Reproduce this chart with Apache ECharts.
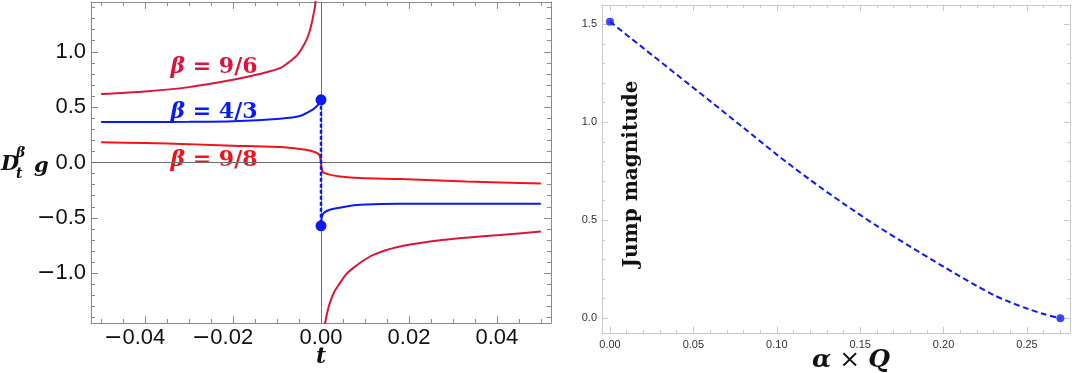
<!DOCTYPE html>
<html><head><meta charset="utf-8">
<script src="https://cdn.jsdelivr.net/npm/echarts@6.0.0/dist/echarts.min.js"></script>
<style>html,body{margin:0;padding:0;background:#fff}#c{width:1072px;height:373px}</style>
</head><body><div id="c"></div>
<script>
// ---------- Left panel data (t, D_t^beta g) ----------
const b96LeftT  = [-0.05, -0.04, -0.03, -0.02, -0.015, -0.012, -0.0093, -0.0075, -0.0065, -0.0055, -0.0045, -0.0033, -0.0027, -0.0021, -0.0017, -0.00136, -0.0009];
const b96LeftV  = [0.618, 0.641, 0.681, 0.747, 0.79, 0.82, 0.853, 0.90, 0.93, 0.965, 1.02, 1.108, 1.17, 1.26, 1.34, 1.41, 1.65];
const b96RightT = [0.0007, 0.0009, 0.0014, 0.002, 0.003, 0.0043, 0.0057, 0.0073, 0.0095, 0.0119, 0.0172, 0.0256, 0.033, 0.0407, 0.05];
const b96RightV = [-1.65, -1.466, -1.36, -1.27, -1.17, -1.09, -1.01, -0.954, -0.89, -0.834, -0.765, -0.71, -0.68, -0.655, -0.623];

const b43LeftT  = [-0.05, -0.04, -0.03, -0.02, -0.0093, -0.0048, -0.0018, -0.0008, -0.0003, 0];
const b43LeftV  = [0.365, 0.366, 0.368, 0.373, 0.396, 0.42, 0.48, 0.515, 0.54, 0.566];
const b43RightT = [0, 0.0002, 0.0007, 0.002, 0.0058, 0.0089, 0.018, 0.03, 0.05];
const b43RightV = [-0.572, -0.49, -0.455, -0.427, -0.397, -0.382, -0.372, -0.372, -0.373];

const b98T = [-0.05, -0.04, -0.03, -0.02, -0.0093, -0.0048, -0.0018, -0.0004, -0.0001, 0, 0.0001, 0.0005, 0.0015, 0.0043, 0.0089, 0.018, 0.033, 0.05];
const b98V = [0.182, 0.176, 0.166, 0.152, 0.139, 0.121, 0.10, 0.07, 0.03, 0, -0.04, -0.09, -0.105, -0.126, -0.141, -0.15, -0.172, -0.19];

const jumpT = [0, 0];
const jumpV = [0.566, -0.572];

// ---------- Right panel data (alpha x Q, jump magnitude) ----------
const aqX = [0, 0.02, 0.04, 0.06, 0.08, 0.10, 0.12, 0.14, 0.16, 0.18, 0.20, 0.22, 0.23, 0.24, 0.25, 0.26, 0.27];
const aqY = [1.513, 1.378, 1.243, 1.108, 0.972, 0.835, 0.706, 0.585, 0.471, 0.366, 0.263, 0.165, 0.119, 0.082, 0.05, 0.022, 0];
const aqEndX = [0, 0.27];
const aqEndY = [1.513, 0];

// ---------- Tick values ----------
const leftXMajor = [-0.04, -0.02, 0, 0.02, 0.04];
const leftYMajor = [-1.0, -0.5, 0, 0.5, 1.0];
const rightXMajor = [0, 0.05, 0.10, 0.15, 0.20, 0.25];
const rightYMajor = [0, 0.5, 1.0, 1.5];
function steps(a, b, s) { const r = []; const n = Math.round((b - a) / s); for (let i = 0; i <= n; i++) r.push(+(a + i * s).toFixed(6)); return r; }
const leftXMinor = steps(-0.05, 0.05, 0.005);
const leftYMinor = steps(-1.4, 1.4, 0.1);
const rightXMinor = steps(0, 0.27, 0.01);
const rightYMinor = steps(0, 1.5, 0.1);

const zip = (a, b) => a.map((v, i) => [v, b[i]]);

const CRIMSON = '#dc143c', RED = '#f4121a', BLUE = '#0a1af2';
const LF = '#8a8a8a', RF = '#c9c9c9';

const minusRich = {
  m: { fontFamily: 'DejaVu Sans', fontSize: 22, color: '#111' },
  s: { width: 21 }
};
const lxFmt = v => v < 0 ? '{m|\u2212}' + Math.abs(v).toFixed(2) + '{s|}' : Math.abs(v).toFixed(2);
const lyFmt = v => (v < 0 ? '{m|\u2212}' : '') + Math.abs(v).toFixed(1);

function ax(dim, grid, pos, min, max, vals, len, color, line, fmt, labelStyle) {
  const o = {
    type: 'value', gridIndex: grid, position: pos, min: min, max: max,
    axisLine: { show: line, onZero: false, lineStyle: { color: color, width: 1 } },
    axisTick: { show: true, inside: true, length: len, customValues: vals, lineStyle: { color: color, width: 1 } },
    axisLabel: { show: !!fmt, customValues: vals, formatter: fmt || undefined },
    splitLine: { show: false }
  };
  if (fmt) Object.assign(o.axisLabel, labelStyle);
  return o;
}

const lxLabel = { fontFamily: 'Liberation Sans', fontSize: 22, color: '#111', margin: 4, rich: minusRich };
const lyLabel = { fontFamily: 'Liberation Sans', fontSize: 22, color: '#111', margin: 5, rich: minusRich };
const rxLabel = { fontFamily: 'Liberation Sans', fontSize: 11, color: '#333', margin: 6 };
const ryLabel = { fontFamily: 'Liberation Sans', fontSize: 11, color: '#333', margin: 5 };

const LXMIN = -0.0523, LXMAX = 0.0523, LYMIN = -1.45, LYMAX = 1.45;
const RXMIN = -0.0048, RXMAX = 0.2758, RYMIN = -0.075, RYMAX = 1.598;

const xAxes = [
  ax('x', 0, 'bottom', LXMIN, LXMAX, leftXMajor, 7, LF, true, lxFmt, lxLabel),
  ax('x', 0, 'bottom', LXMIN, LXMAX, leftXMinor, 4, LF, false),
  ax('x', 0, 'top', LXMIN, LXMAX, leftXMajor, 7, LF, true),
  ax('x', 0, 'top', LXMIN, LXMAX, leftXMinor, 4, LF, false),
  ax('x', 1, 'bottom', RXMIN, RXMAX, rightXMajor, 6, RF, true, v => v.toFixed(2), rxLabel),
  ax('x', 1, 'bottom', RXMIN, RXMAX, rightXMinor, 3, RF, false),
  ax('x', 1, 'top', RXMIN, RXMAX, rightXMajor, 6, RF, true),
  ax('x', 1, 'top', RXMIN, RXMAX, rightXMinor, 3, RF, false)
];
const yAxes = [
  ax('y', 0, 'left', LYMIN, LYMAX, leftYMajor, 7, LF, true, lyFmt, lyLabel),
  ax('y', 0, 'left', LYMIN, LYMAX, leftYMinor, 4, LF, false),
  ax('y', 0, 'right', LYMIN, LYMAX, leftYMajor, 7, LF, true),
  ax('y', 0, 'right', LYMIN, LYMAX, leftYMinor, 4, LF, false),
  ax('y', 1, 'left', RYMIN, RYMAX, rightYMajor, 6, RF, true, v => v.toFixed(1), ryLabel),
  ax('y', 1, 'left', RYMIN, RYMAX, rightYMinor, 3, RF, false),
  ax('y', 1, 'right', RYMIN, RYMAX, rightYMajor, 6, RF, true),
  ax('y', 1, 'right', RYMIN, RYMAX, rightYMinor, 3, RF, false)
];

function curve(T, V, color, extra) {
  return Object.assign({
    type: 'line', xAxisIndex: 0, yAxisIndex: 0, data: zip(T, V), showSymbol: false, symbol: 'none',
    smooth: 0.25, clip: true, silent: true, animation: false,
    lineStyle: { color: color, width: 2 }, z: 3
  }, extra || {});
}

const serif = 'DejaVu Serif';
const option = {
  animation: false,
  backgroundColor: '#fff',
  grid: [
    { left: 91, top: 2, width: 460, height: 321, containLabel: false },
    { left: 602, top: 5, width: 468, height: 328, containLabel: false }
  ],
  xAxis: xAxes,
  yAxis: yAxes,
  series: [
    curve(b96LeftT, b96LeftV, CRIMSON, {
      markLine: {
        silent: true, symbol: 'none', animation: false, label: { show: false },
        lineStyle: { color: '#6e6e6e', width: 1, type: 'solid' },
        data: [{ xAxis: 0 }, { yAxis: 0 }], z: 1
      }
    }),
    curve(b96RightT, b96RightV, CRIMSON),
    curve(b43LeftT, b43LeftV, BLUE),
    curve(b43RightT, b43RightV, BLUE),
    curve(b98T, b98V, RED),
    {
      type: 'line', xAxisIndex: 0, yAxisIndex: 0, data: zip(jumpT, jumpV), symbol: 'circle', symbolSize: 11,
      showSymbol: true, itemStyle: { color: BLUE }, lineStyle: { color: BLUE, width: 2.5, type: [4, 2] }, z: 4, silent: true
    },
    {
      type: 'line', xAxisIndex: 4, yAxisIndex: 4, data: zip(aqX, aqY), showSymbol: false, symbol: 'none',
      smooth: 0.3, lineStyle: { color: BLUE, width: 2, type: [6, 3.5] }, z: 3, silent: true
    },
    {
      type: 'scatter', xAxisIndex: 4, yAxisIndex: 4, data: zip(aqEndX, aqEndY), symbolSize: 8,
      itemStyle: { color: BLUE }, z: 4, silent: true
    }
  ],
  graphic: [
    { type: 'text', x: 214, y: 67, style: { text: '{b|β} = 9/6', rich: { b: { fontStyle: 'italic', fontWeight: 'bold', fontFamily: serif, fontSize: 22, fill: CRIMSON } }, font: 'bold 22px "DejaVu Serif"', fill: CRIMSON, align: 'center', verticalAlign: 'middle' } },
    { type: 'text', x: 214, y: 112, style: { text: '{b|β} = 4/3', rich: { b: { fontStyle: 'italic', fontWeight: 'bold', fontFamily: serif, fontSize: 22, fill: BLUE } }, font: 'bold 22px "DejaVu Serif"', fill: BLUE, align: 'center', verticalAlign: 'middle' } },
    { type: 'text', x: 214, y: 160, style: { text: '{b|β} = 9/8', rich: { b: { fontStyle: 'italic', fontWeight: 'bold', fontFamily: serif, fontSize: 22, fill: RED } }, font: 'bold 22px "DejaVu Serif"', fill: RED, align: 'center', verticalAlign: 'middle' } },
    { type: 'text', x: 1, y: 165, style: { text: 'D', font: 'italic bold 21px "DejaVu Serif"', fill: '#111', align: 'left', verticalAlign: 'middle' } },
    { type: 'text', x: 16, y: 153, style: { text: 'β', font: 'italic bold 14px "DejaVu Serif"', fill: '#111', align: 'left', verticalAlign: 'middle' } },
    { type: 'text', x: 16, y: 174, style: { text: 't', font: 'italic bold 14px "DejaVu Serif"', fill: '#111', align: 'left', verticalAlign: 'middle' } },
    { type: 'text', x: 34, y: 167, style: { text: 'g', font: 'italic bold 21px "DejaVu Serif"', fill: '#111', align: 'left', verticalAlign: 'middle' } },
    { type: 'text', x: 321, y: 357, style: { text: 't', font: 'italic bold 22px "DejaVu Serif"', fill: '#111', align: 'center', verticalAlign: 'middle' } },
    { type: 'text', x: 851, y: 360, style: { text: '{i|α} × {i|Q}', rich: { i: { fontStyle: 'italic', fontWeight: 'bold', fontFamily: serif, fontSize: 25, fill: '#111' } }, font: '25px "DejaVu Serif"', fill: '#111', align: 'center', verticalAlign: 'middle' } },
    { type: 'text', x: 632, y: 174, rotation: Math.PI / 2, style: { text: 'Jump magnitude', font: 'bold 20px "DejaVu Serif"', fill: '#111', align: 'center', verticalAlign: 'middle' } }
  ]
};

const chart = echarts.init(document.getElementById('c'), null, { renderer: 'canvas' });
chart.setOption(option);
</script>
</body></html>
